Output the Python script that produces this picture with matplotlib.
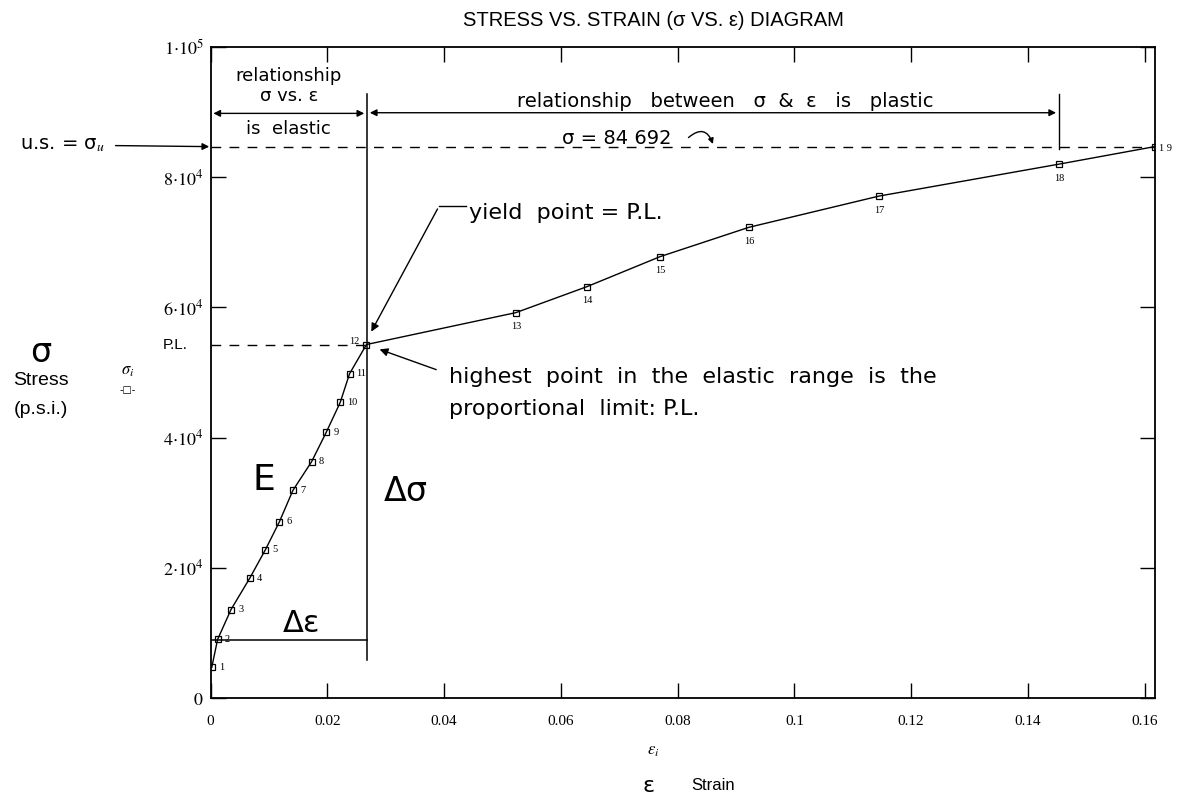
import matplotlib
matplotlib.use("Agg")
import matplotlib.pyplot as plt

# test points
point_ids = list(range(1, 20))
strain = [0.0002, 0.0012, 0.0035, 0.0067, 0.0094, 0.0118, 0.0141, 0.0173, 0.0198,
          0.0222, 0.0238, 0.0267, 0.0523, 0.0645, 0.0770, 0.0922, 0.1145, 0.1453, 0.1617]
stress = [4700, 9000, 13600, 18400, 22800, 27100, 31900, 36300, 40800,
          45400, 49800, 54300, 59200, 63200, 67800, 72300, 77100, 82000, 84692]

x_ticks = [0, 0.02, 0.04, 0.06, 0.08, 0.1, 0.12, 0.14, 0.16]
x_tick_labels = ["0", "0.02", "0.04", "0.06", "0.08", "0.1", "0.12", "0.14", "0.16"]
y_ticks = [0, 20000, 40000, 60000, 80000, 100000]
y_tick_labels = [r"$0$", r"$2{\cdot}10^4$", r"$4{\cdot}10^4$", r"$6{\cdot}10^4$",
                 r"$8{\cdot}10^4$", r"$1{\cdot}10^5$"]

ultimate = 84692
pl_index = 11   # point 12 = proportional limit
plastic_end = 17  # point 18

plt.rcParams['mathtext.fontset'] = 'stix'
serif = 'Liberation Serif'
hand = 'DejaVu Sans'

fig = plt.figure(figsize=(11.83, 7.96), dpi=100)
ax = fig.add_axes([0.178, 0.123, 0.798, 0.818])

ax.plot(strain, stress, color='k', lw=1.0, marker='s', ms=4.5, mfc='none', mec='k', mew=0.9)

ax.set_xlim(0, strain[-1])
ax.set_ylim(0, 100000)
ax.set_xticks(x_ticks)
ax.set_xticklabels(x_tick_labels, fontfamily=serif, fontsize=11)
ax.set_yticks(y_ticks)
ax.set_yticklabels(y_tick_labels, fontsize=13)
ax.tick_params(direction='in', length=11, width=1, top=True, right=True)
ax.tick_params(axis='x', pad=12)
ax.tick_params(axis='y', pad=5)
for sp in ax.spines.values():
    sp.set_linewidth(1.3)

# point numbers
for i, (x, y) in enumerate(zip(strain, stress)):
    n = point_ids[i]
    if n <= 11:
        ax.text(x + 0.0012, y, str(n), fontsize=7.5, fontfamily=serif, va='center', ha='left')
    elif n == 12:
        ax.text(x - 0.0012, y + 500, str(n), fontsize=7.5, fontfamily=serif, va='center', ha='right')
    elif n == 19:
        ax.text(x + 0.0008, y - 300, "1 9", fontsize=7.5, fontfamily=serif, va='center', ha='left',
                clip_on=False)
    else:
        ax.text(x, y - 2200, str(n), fontsize=7.5, fontfamily=serif, va='center', ha='center')

dash = (0, (7, 6))
# ultimate stress dashed line
ax.plot([0, strain[-1]], [ultimate, ultimate], color='k', lw=1, linestyle=dash)
# proportional limit dashed line
ax.plot([0, strain[pl_index]], [stress[pl_index]] * 2, color='k', lw=1, linestyle=dash)

# delta sigma / delta epsilon construction
x_pl = strain[pl_index] + 0.0001
ax.plot([x_pl, x_pl], [5800, 92800], color='k', lw=1.1)
ax.plot([0, x_pl], [stress[1] - 100] * 2, color='k', lw=1.1)
ax.plot([strain[plastic_end]] * 2, [ultimate - 300, 92800], color='k', lw=1)

# top range arrows
ax.annotate('', xy=(0, 89800), xytext=(x_pl, 89800),
            arrowprops=dict(arrowstyle='<|-|>', color='k', lw=1, mutation_scale=10))
ax.annotate('', xy=(x_pl, 89900), xytext=(strain[plastic_end], 89900),
            arrowprops=dict(arrowstyle='<|-|>', color='k', lw=1, mutation_scale=10))
ax.text(x_pl / 2, 95500, "relationship", fontfamily=hand, fontsize=13, ha='center', va='center')
ax.text(x_pl / 2, 92400, "σ vs. ε", fontfamily=hand, fontsize=13, ha='center', va='center')
ax.text(x_pl / 2, 87400, "is  elastic", fontfamily=hand, fontsize=13, ha='center', va='center')
ax.text(0.0882, 91700, "relationship   between   σ  &  ε   is   plastic", fontfamily=hand,
        fontsize=14, ha='center', va='center')

# sigma = 84692 label with curled arrow
ax.text(0.0695, 85900, "σ = 84 692", fontfamily=hand, fontsize=14, ha='center', va='center')
ax.annotate('', xy=(0.0862, ultimate), xytext=(0.0815, 85800),
            arrowprops=dict(arrowstyle='-|>', color='k', lw=1, mutation_scale=8,
                            connectionstyle='arc3,rad=-0.8'))

# yield point annotation
ax.plot([0.0391, 0.0437], [75500, 75500], color='k', lw=1)
ax.annotate('', xy=(strain[pl_index] + 0.0006, stress[pl_index] + 1600), xytext=(0.0391, 75500),
            arrowprops=dict(arrowstyle='-|>', color='k', lw=1, mutation_scale=12))
ax.text(0.0443, 74500, "yield  point = P.L.", fontfamily=hand, fontsize=16, ha='left', va='center')

# proportional limit annotation
ax.annotate('', xy=(strain[pl_index] + 0.0018, stress[pl_index] - 600), xytext=(0.0391, 50300),
            arrowprops=dict(arrowstyle='-|>', color='k', lw=1, mutation_scale=12))
ax.text(0.0409, 49300, "highest  point  in  the  elastic  range  is  the", fontfamily=hand,
        fontsize=16, ha='left', va='center')
ax.text(0.0409, 44400, "proportional  limit: P.L.", fontfamily=hand, fontsize=16,
        ha='left', va='center')

ax.text(0.0092, 33500, "E", fontfamily=hand, fontsize=26, ha='center', va='center')
ax.text(0.0335, 31800, "Δσ", fontfamily=hand, fontsize=24, ha='center', va='center')
ax.text(0.0155, 11400, "Δε", fontfamily=hand, fontsize=22, ha='center', va='center')

# outside labels
fig.text(0.552, 0.974, "STRESS VS. STRAIN (σ VS. ε) DIAGRAM", fontfamily='Liberation Sans',
         fontsize=14.5, ha='center', va='center')
fig.text(0.148, 0.567, "P.L.", fontfamily='Liberation Sans', fontsize=11, ha='center', va='center')
ax.annotate("u.s. = σ$_u$", xy=(0, ultimate), xycoords='data',
            xytext=(62, 796 - 145), textcoords='figure pixels',
            fontfamily=hand, fontsize=14, ha='center', va='center', annotation_clip=False,
            arrowprops=dict(arrowstyle='-|>', color='k', lw=1, mutation_scale=10,
                            shrinkA=6, shrinkB=1))
fig.text(0.034, 0.557, "σ", fontfamily=hand, fontsize=24, ha='center', va='center')
fig.text(0.035, 0.522, "Stress", fontfamily='Liberation Sans', fontsize=14, ha='center', va='center')
fig.text(0.035, 0.485, "(p.s.i.)", fontfamily='Liberation Sans', fontsize=14, ha='center', va='center')
fig.text(0.108, 0.535, r"$\sigma_i$", fontsize=12, ha='center', va='center')
fig.text(0.108, 0.510, "-□-", fontsize=7, ha='center', va='center')
fig.text(0.552, 0.058, r"$\epsilon_i$", fontsize=12, ha='center', va='center')
fig.text(0.548, 0.013, "ε", fontfamily=hand, fontsize=16, ha='center', va='center')
fig.text(0.603, 0.013, "Strain", fontfamily='Liberation Sans', fontsize=12, ha='center', va='center')

fig.savefig("out.png", dpi=100)
